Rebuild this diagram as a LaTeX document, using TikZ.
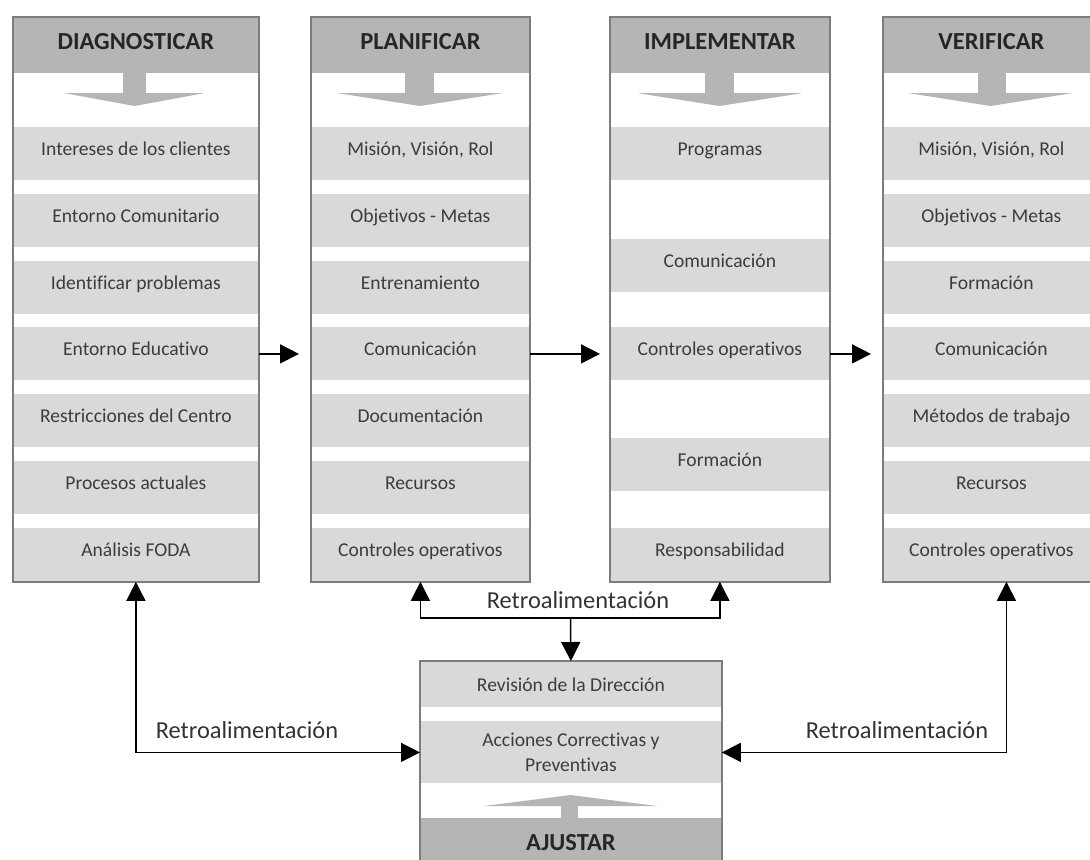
\documentclass[tikz,border=0pt]{standalone}
\usepackage{fontspec}
\setmainfont[Ligatures={NoCommon}]{Carlito}
\usetikzlibrary{arrows.meta,positioning}

\definecolor{cabeza}{RGB}{181,181,181}
\definecolor{banda}{RGB}{217,217,217}
\definecolor{borde}{RGB}{125,125,125}
\definecolor{letra}{RGB}{60,60,60}

\begin{document}
\begin{tikzpicture}[x=0.5pt, y=-0.5pt]
			\tikzstyle{Columna}	= [rectangle, fill=white, inner sep=0pt, anchor=north west, minimum height=282pt]
			\tikzstyle{Cabeza}	= [rectangle, fill=cabeza, inner sep=0pt, anchor=north west, minimum height=28pt, text=black!85, font=\fontsize{12.25}{14}\selectfont\bfseries, text height=0.65em, text depth=0.2em]
			\tikzstyle{Banda}	= [rectangle, fill=banda, inner sep=0pt, anchor=north west, text=letra, font=\fontsize{9.8}{12.5}\selectfont, minimum height=26.5pt]
			\tikzstyle{Item}	= [Banda, text height=0.7em, text depth=0.55em]
			\tikzstyle{AnchoD}	= [minimum width=122.5pt]
			\tikzstyle{AnchoP}	= [minimum width=109pt]
			\tikzstyle{AnchoI}	= [minimum width=109.5pt]
			\tikzstyle{AnchoV}	= [minimum width=108pt]
			\tikzstyle{AnchoA}	= [minimum width=150.5pt]
			\tikzstyle{Borde}	= [draw=borde, line width=0.75pt]
			\tikzstyle{Flecha}	= [-{Triangle[length=9.5pt, width=9.5pt]}, line width=0.75pt]
			\tikzstyle{Flecha2}	= [{Triangle[length=9.5pt, width=9.5pt]}-{Triangle[length=9.5pt, width=9.5pt]}, line width=0.75pt]
			\tikzstyle{Etiqueta}	= [anchor=base, inner sep=0pt, text=black!80, font=\fontsize{12.2}{14}\selectfont]
			
			\fill [white] (0, 0) rectangle (1090, 859);
			\useasboundingbox (0, 0) rectangle (1090, 859);
			\clip (0, 0) rectangle (1090, 859);
			
			% DIAGNOSTICAR
			\node (c1) at (13, 17) [Columna][AnchoD] {};
			\node (h1) at (13, 17) [Cabeza][AnchoD] {DIAGNOSTICAR};
			\fill [cabeza] (123, 72) rectangle (146, 93);
			\fill [cabeza] (64, 93) -- (205, 93) -- (134.5, 106) -- cycle;
			\node (d1) at (13, 127) [Item][AnchoD] {Intereses de los clientes};
			\node (d2) at (13, 194) [Item][AnchoD] {Entorno Comunitario};
			\node (d3) at (13, 261) [Item][AnchoD] {Identificar problemas};
			\node (d4) at (13, 327) [Item][AnchoD] {Entorno Educativo};
			\node (d5) at (13, 394) [Item][AnchoD] {Restricciones del Centro};
			\node (d6) at (13, 461) [Item][AnchoD] {Procesos actuales};
			\node (d7) at (13, 528) [Item][AnchoD] {Análisis FODA};
			\draw [Borde] (c1.north west) rectangle (c1.south east);
			
			% PLANIFICAR
			\node (c2) at (311, 17) [Columna][AnchoP] {};
			\node (h2) at (311, 17) [Cabeza][AnchoP] {PLANIFICAR};
			\fill [cabeza] (405, 72) rectangle (434, 93);
			\fill [cabeza] (337, 93) -- (503, 93) -- (420, 106) -- cycle;
			\node (p1) at (311, 127) [Item][AnchoP] {Misión, Visión, Rol};
			\node (p2) at (311, 194) [Item][AnchoP] {Objetivos - Metas};
			\node (p3) at (311, 261) [Item][AnchoP] {Entrenamiento};
			\node (p4) at (311, 327) [Item][AnchoP] {Comunicación};
			\node (p5) at (311, 394) [Item][AnchoP] {Documentación};
			\node (p6) at (311, 461) [Item][AnchoP] {Recursos};
			\node (p7) at (311, 528) [Item][AnchoP] {Controles operativos};
			\draw [Borde] (c2.north west) rectangle (c2.south east);
			
			% IMPLEMENTAR
			\node (c3) at (610, 17) [Columna][AnchoI] {};
			\node (h3) at (610, 17) [Cabeza][AnchoI] {IMPLEMENTAR};
			\fill [cabeza] (705, 72) rectangle (734, 93);
			\fill [cabeza] (637, 93) -- (803, 93) -- (719.5, 106) -- cycle;
			\node (i1) at (610, 127) [Item][AnchoI] {Programas};
			\node (i2) at (610, 239) [Item][AnchoI] {Comunicación};
			\node (i3) at (610, 327) [Item][AnchoI] {Controles operativos};
			\node (i4) at (610, 438) [Item][AnchoI] {Formación};
			\node (i5) at (610, 528) [Item][AnchoI] {Responsabilidad};
			\draw [Borde] (c3.north west) rectangle (c3.south east);
			
			% VERIFICAR
			\node (c4) at (883, 17) [Columna][AnchoV] {};
			\node (h4) at (883, 17) [Cabeza][AnchoV] {VERIFICAR};
			\fill [cabeza] (978, 72) rectangle (1006, 93);
			\fill [cabeza] (908, 93) -- (1073, 93) -- (990.5, 106) -- cycle;
			\node (v1) at (883, 127) [Item][AnchoV] {Misión, Visión, Rol};
			\node (v2) at (883, 194) [Item][AnchoV] {Objetivos - Metas};
			\node (v3) at (883, 261) [Item][AnchoV] {Formación};
			\node (v4) at (883, 327) [Item][AnchoV] {Comunicación};
			\node (v5) at (883, 394) [Item][AnchoV] {Métodos de trabajo};
			\node (v6) at (883, 461) [Item][AnchoV] {Recursos};
			\node (v7) at (883, 528) [Item][AnchoV] {Controles operativos};
			\draw [Borde] (c4.north west) rectangle (c4.south east);
			
			% AJUSTAR
			\node (c5) at (420, 661) [Columna][AnchoA] {};
			\node (rv) at (420, 661) [Banda][AnchoA][minimum height=23pt] {Revisión de la Dirección};
			\node (ac) at (420, 721) [Banda][AnchoA][minimum height=31pt, align=center] {Acciones Correctivas y\\Preventivas};
			\fill [cabeza] (561, 805) rectangle (578, 819);
			\fill [cabeza] (484, 806) -- (657, 806) -- (570.5, 795) -- cycle;
			\node (h5) at (420, 818) [Cabeza][AnchoA] {AJUSTAR};
			\draw [Borde] (c5.north west) rectangle (c5.south east);
			
			\draw [Flecha, shorten >=6pt] (d4.east) to (p4.west);
			\draw [Flecha, shorten >=5pt] (p4.east) to (i3.west);
			\draw [Flecha, shorten >=6pt] (i3.east) to (v4.west);
			
			\coordinate (rj) at (570.5, 618);
			\draw [Flecha] (rj) -| (p7.south);
			\draw [Flecha] (rj) -| (i5.south);
			\draw [Flecha] (rj) to (rv.north);
			\draw [Flecha2] (d7.south) |- (ac.west);
			\draw [Flecha2] ([xshift=7.5pt]v7.south) |- (ac.east);
			
			\node (e1) at (578, 608) [Etiqueta] {Retroalimentación};
			\node (e2) at (247, 738) [Etiqueta] {Retroalimentación};
			\node (e3) at (897, 738) [Etiqueta] {Retroalimentación};
		\end{tikzpicture}
\end{document}
